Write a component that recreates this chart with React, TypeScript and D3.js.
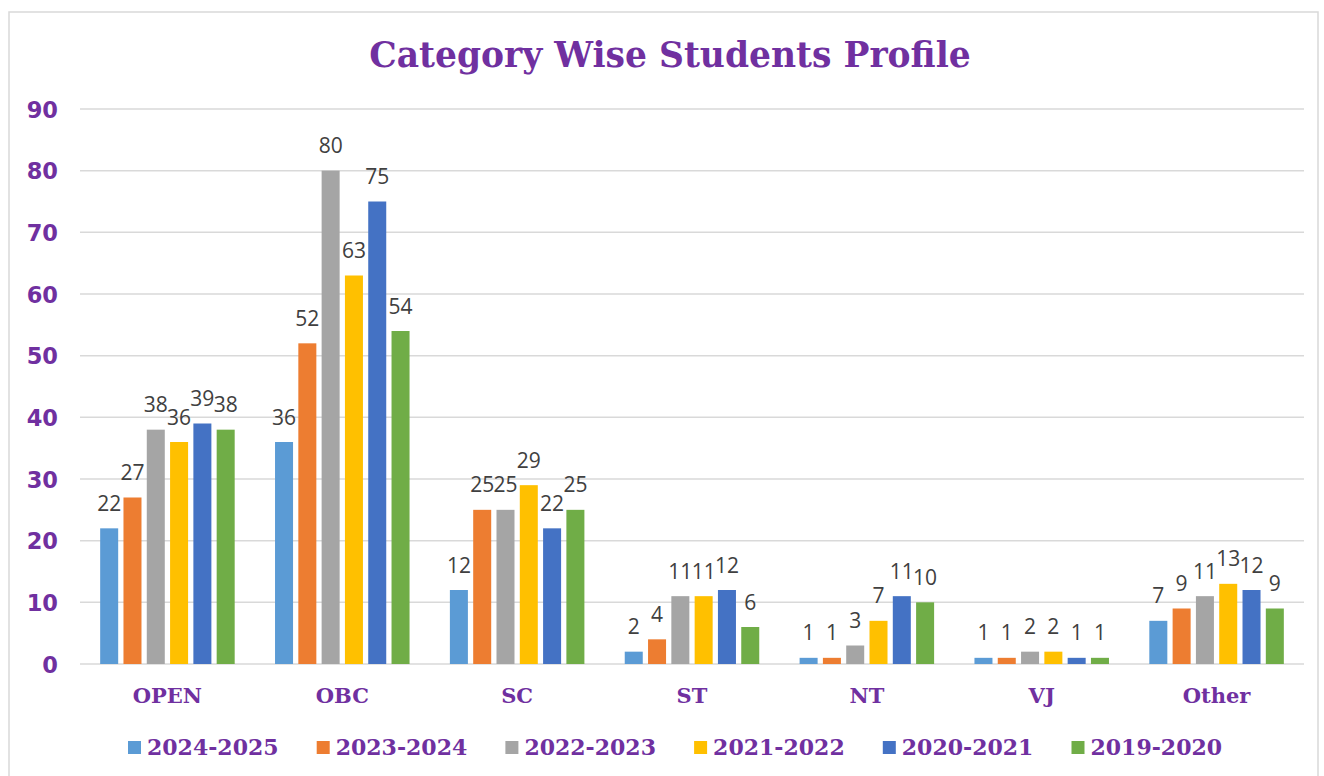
import React from "react";
import * as d3 from "d3";

const categories = ["OPEN", "OBC", "SC", "ST", "NT", "VJ", "Other"];
const seriesNames = ["2024-2025", "2023-2024", "2022-2023", "2021-2022", "2020-2021", "2019-2020"];
const s2024 = [22, 36, 12, 2, 1, 1, 7];
const s2023 = [27, 52, 25, 4, 1, 1, 9];
const s2022 = [38, 80, 25, 11, 3, 2, 11];
const s2021 = [36, 63, 29, 11, 7, 2, 13];
const s2020 = [39, 75, 22, 12, 11, 1, 12];
const s2019 = [38, 54, 25, 6, 10, 1, 9];
const seriesValues = [s2024, s2023, s2022, s2021, s2020, s2019];
const colors = ["#5B9BD5", "#ED7D31", "#A5A5A5", "#FFC000", "#4472C4", "#70AD47"];
const yTicks = [0, 10, 20, 30, 40, 50, 60, 70, 80, 90];

const PURPLE = "#7030A0";
const SERIF = "'DejaVu Serif', serif";

export default function App() {
  const W = 1324, H = 776;
  const plotL = 80, plotR = 1304, plotT = 109, plotB = 664;
  const y = d3.scaleLinear().domain([0, 90]).range([plotB, plotT]);
  const x0 = d3.scaleBand<string>().domain(categories).range([plotL, plotR]).padding(0);
  const x1 = d3.scaleBand<string>().domain(seriesNames).range([-69.9, 69.9]).paddingInner(0.227).paddingOuter(0.1135);

  return (
    <svg width={W} height={H} style={{ position: "absolute", left: 0, top: 0, background: "#fff" }}>
      <rect x={9} y={12} width={1309} height={H} fill="#fff" stroke="#D9D9D9" strokeWidth={1.5} />
      <text x={670} y={67} textAnchor="middle" fontFamily={SERIF} fontWeight="bold" fontSize={34.5} fill={PURPLE}>
        Category Wise Students Profile
      </text>
      {yTicks.map((t) => (
        <g key={t}>
          <line x1={plotL} x2={plotR} y1={y(t)} y2={y(t)} stroke="#D9D9D9" strokeWidth={1.5} />
          <text x={58} y={y(t) + 8.5} textAnchor="end" fontFamily="'DejaVu Sans', sans-serif" fontWeight="bold" fontSize={22.5} fill={PURPLE}>
            {t}
          </text>
        </g>
      ))}
      {categories.map((c, ci) => {
        const cx = (x0(c) as number) + x0.bandwidth() / 2;
        return (
          <g key={c}>
            {seriesNames.map((s, si) => {
              const v = seriesValues[si][ci];
              const bx = cx + (x1(s) as number);
              return (
                <g key={s}>
                  <rect x={bx} y={y(v)} width={x1.bandwidth()} height={plotB - y(v)} fill={colors[si]} />
                  <text x={bx + x1.bandwidth() / 2} y={y(v) - 17.5} textAnchor="middle" fontFamily="'Open Sans', sans-serif" fontSize={21} fill="#404040">
                    {v}
                  </text>
                </g>
              );
            })}
            <text x={cx} y={703} textAnchor="middle" fontFamily={SERIF} fontWeight="bold" fontSize={21} fill={PURPLE}>
              {c}
            </text>
          </g>
        );
      })}
      {seriesNames.map((s, si) => {
        const lx = 128 + si * 188.7;
        return (
          <g key={s}>
            <rect x={lx} y={741} width={13} height={13} fill={colors[si]} />
            <text x={lx + 19} y={755} fontFamily={SERIF} fontWeight="bold" fontSize={22} fill={PURPLE}>
              {s}
            </text>
          </g>
        );
      })}
    </svg>
  );
}
